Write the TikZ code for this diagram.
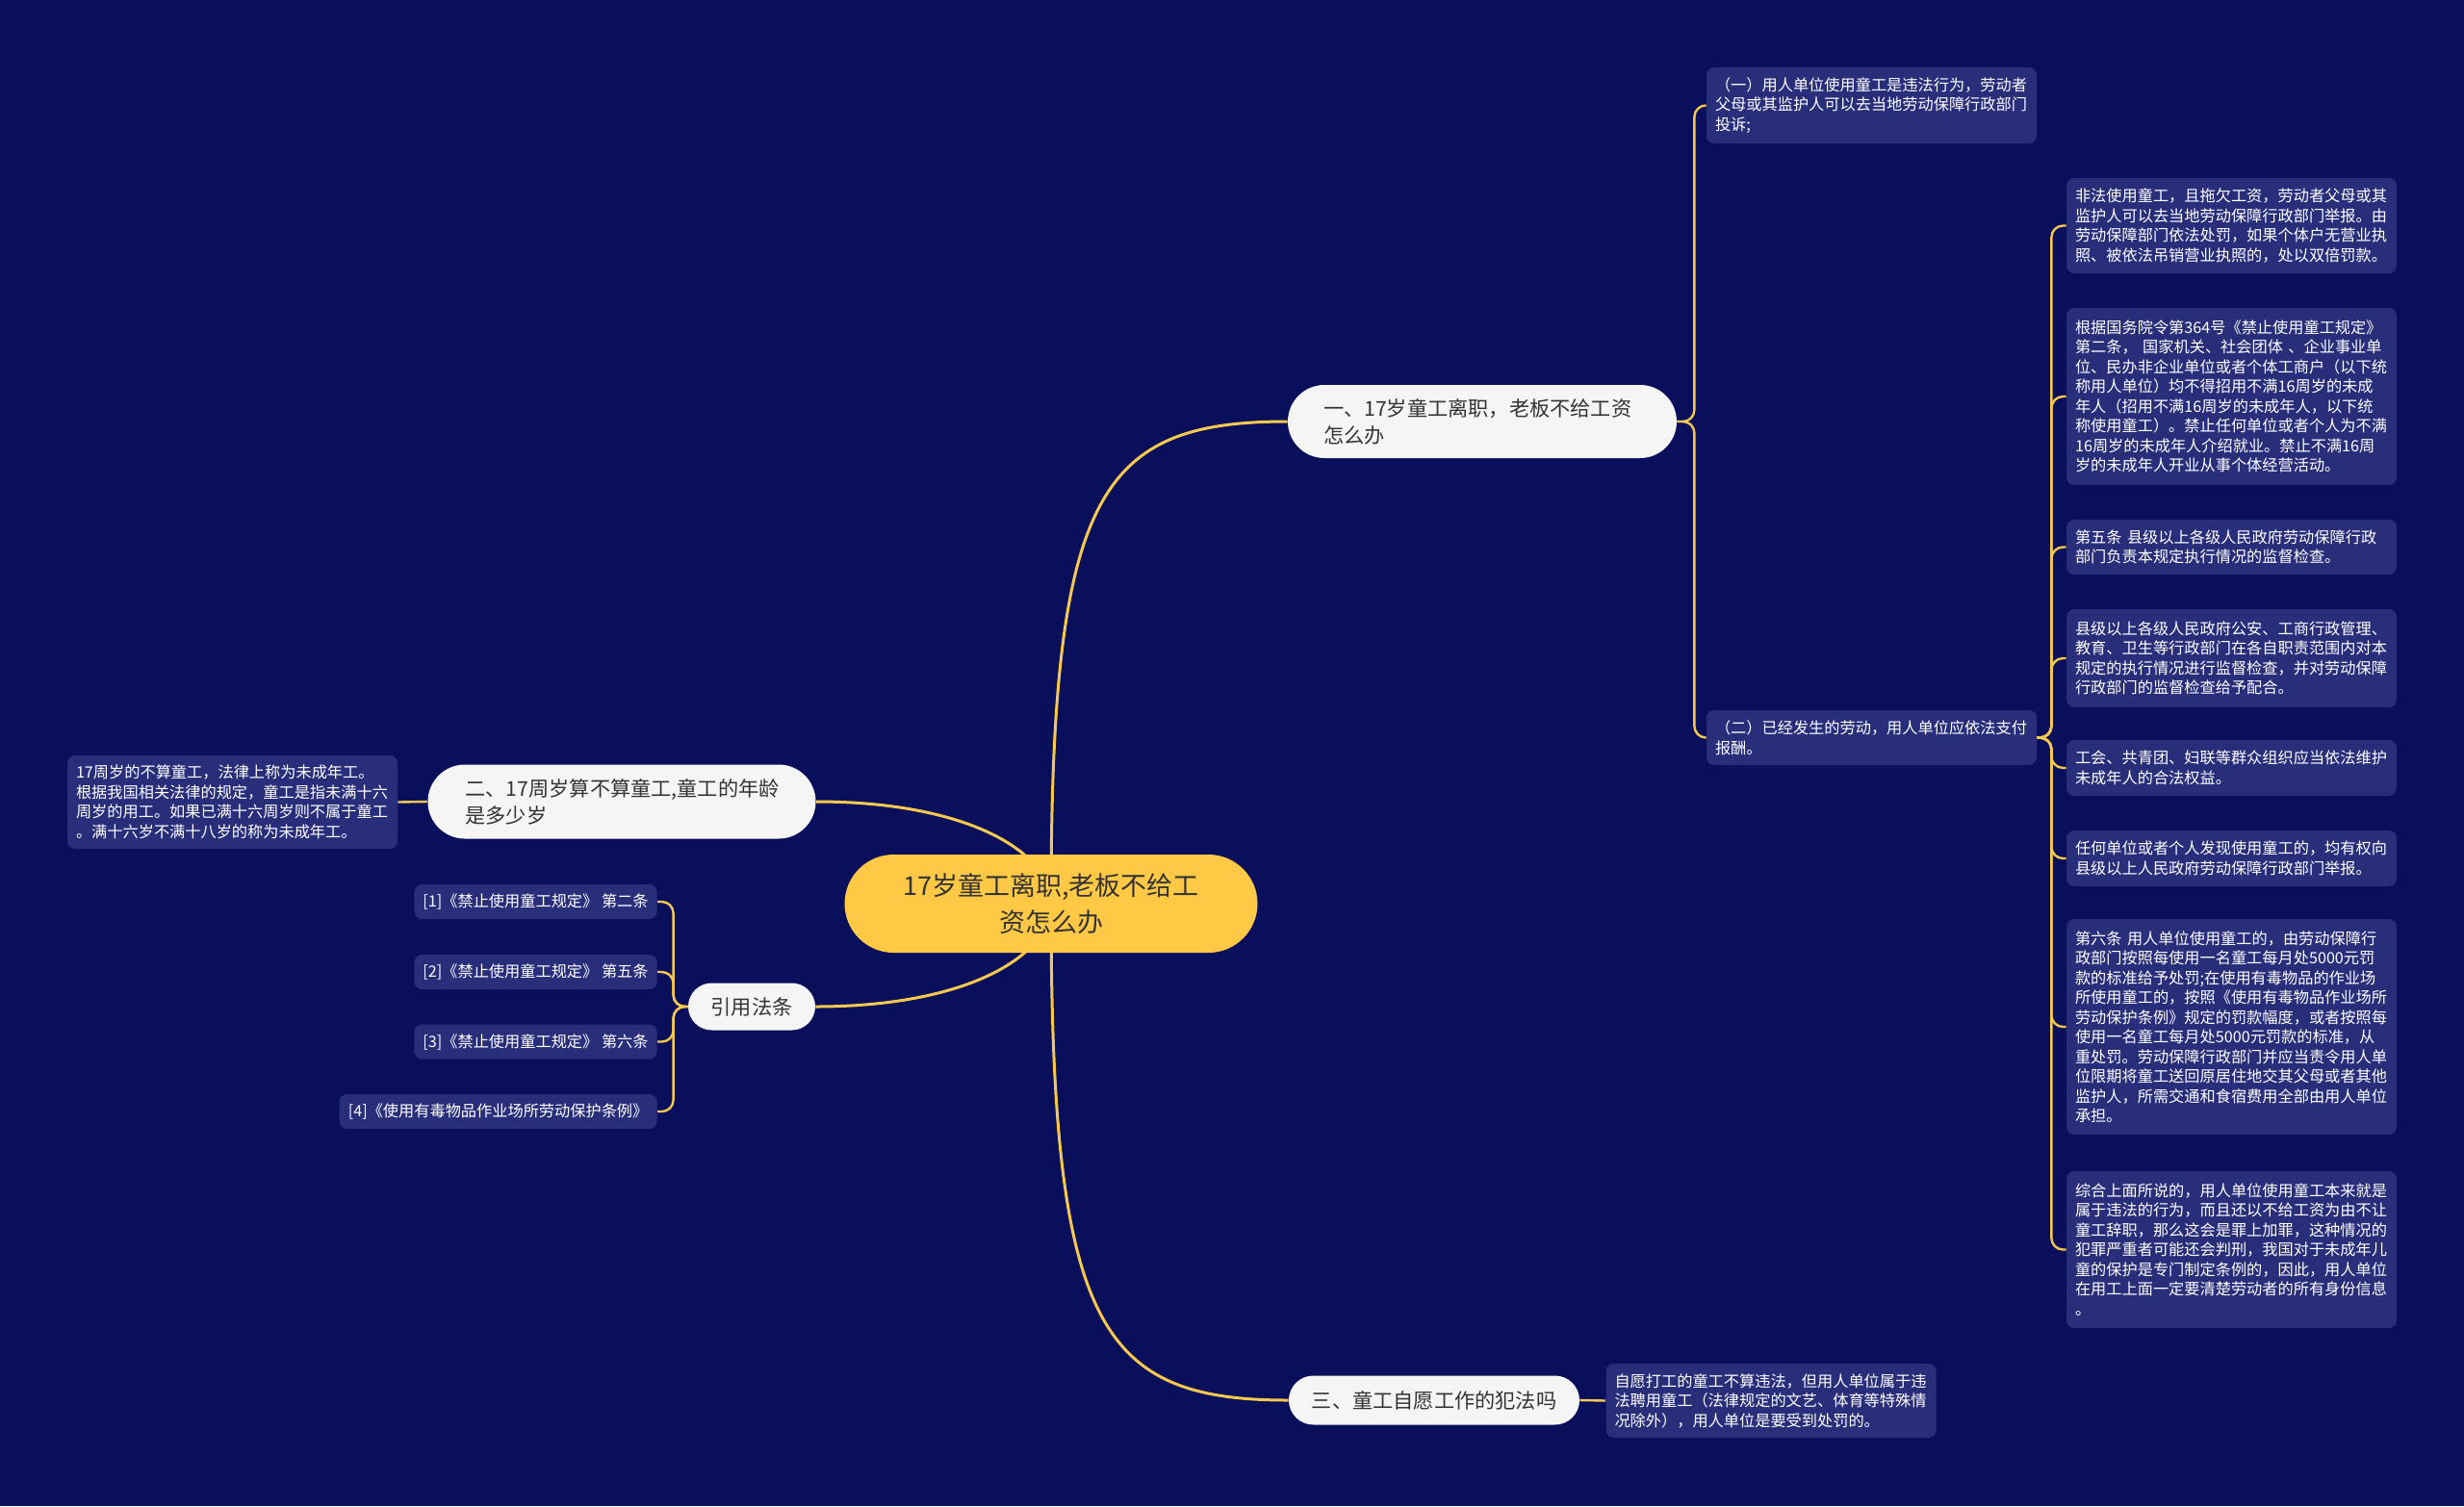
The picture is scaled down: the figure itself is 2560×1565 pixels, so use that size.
\documentclass[tikz,border=0pt]{standalone}
\usepackage{fontspec}
\setmainfont{Noto Sans CJK SC}
\usetikzlibrary{calc}
\definecolor{bgnavy}{RGB}{10,15,92}
\definecolor{leaffill}{RGB}{41,46,122}
\definecolor{linecol}{RGB}{245,200,80}
\definecolor{centerfill}{RGB}{255,200,69}
\definecolor{branchfill}{RGB}{245,245,245}
\definecolor{darktext}{RGB}{51,51,51}
\pgfdeclarelayer{bgzero}
\pgfdeclarelayer{background}
\pgfsetlayers{bgzero,background,main}
\tikzset{
  leaf/.style={fill=leaffill, text=white, rounded corners=4pt,
    font=\fontsize{8.1pt}{10.25pt}\selectfont, inner xsep=4.5pt, inner ysep=0pt},
  leafwide/.style={leaf, text width=162.5pt, align=left},
  cite/.style={leaf, minimum height=18pt, anchor=east},
  branch/.style={fill=branchfill, text=darktext,
    font=\fontsize{10.6pt}{14pt}\selectfont, inner ysep=0pt},
  central/.style={fill=centerfill, text=darktext, minimum width=214.5pt,
    minimum height=51pt, rounded corners=25.5pt, align=center, inner sep=0pt,
    font=\fontsize{13.5pt}{19pt}\selectfont},
  mainline/.style={draw=linecol, line width=1.5pt},
  subline/.style={draw=linecol, line width=1.2pt, rounded corners=6pt},
}
\begin{document}
\begin{tikzpicture}[x=0.5pt,y=-0.5pt]
\useasboundingbox (0,0) rectangle (2560,1565);
\begin{pgfonlayer}{bgzero}
  \fill[bgnavy] (0,0) rectangle (2560,1565);
\end{pgfonlayer}

% central
\node[central] (c) at (1092,939) {17岁童工离职,老板不给工\\资怎么办};

% branches
\node[branch, text width=165pt, align=left, inner xsep=18.5pt, minimum height=38pt, rounded corners=19pt]
  (b1) at (1540,438) {一、17岁童工离职，老板不给工资\\怎么办};
\node[branch, text width=162.5pt, align=left, inner xsep=19.5pt, minimum height=38.5pt, rounded corners=19.25pt]
  (b2) at (646,833) {二、17周岁算不算童工,童工的年龄\\是多少岁};
\node[branch, minimum width=151pt, minimum height=25.5pt, rounded corners=12.75pt]
  (b3) at (1490,1455) {三、童工自愿工作的犯法吗};
\node[branch, minimum width=66pt, minimum height=24.5pt, rounded corners=12.25pt]
  (r) at (781,1046) {引用法条};

% branch 1 leaves
\node[leafwide, minimum height=39.5pt] (la) at (1944.5,109.5)
  {（一）用人单位使用童工是违法行为，劳动者\\父母或其监护人可以去当地劳动保障行政部门\\投诉;};
\node[leafwide, minimum height=28.5pt] (lb) at (1944.5,766.5)
  {（二）已经发生的劳动，用人单位应依法支付\\报酬。};

% leaf B children
\node[leafwide, minimum height=49.5pt] (c1) at (2318.5,234.5)
  {非法使用童工，且拖欠工资，劳动者父母或其\\监护人可以去当地劳动保障行政部门举报。由\\劳动保障部门依法处罚，如果个体户无营业执\\照、被依法吊销营业执照的，处以双倍罚款。};
\node[leafwide, minimum height=92pt] (c2) at (2318.5,412)
  {根据国务院令第364号《禁止使用童工规定》\\第二条， 国家机关、社会团体 、企业事业单\\位、民办非企业单位或者个体工商户（以下统\\称用人单位）均不得招用不满16周岁的未成\\年人（招用不满16周岁的未成年人，以下统\\称使用童工）。禁止任何单位或者个人为不满\\16周岁的未成年人介绍就业。禁止不满16周\\岁的未成年人开业从事个体经营活动。};
\node[leafwide, minimum height=28.5pt] (c3) at (2318.5,568.5)
  {第五条 县级以上各级人民政府劳动保障行政\\部门负责本规定执行情况的监督检查。};
\node[leafwide, minimum height=51pt] (c4) at (2318.5,684)
  {县级以上各级人民政府公安、工商行政管理、\\教育、卫生等行政部门在各自职责范围内对本\\规定的执行情况进行监督检查，并对劳动保障\\行政部门的监督检查给予配合。};
\node[leafwide, minimum height=29pt] (c5) at (2318.5,798)
  {工会、共青团、妇联等群众组织应当依法维护\\未成年人的合法权益。};
\node[leafwide, minimum height=29pt] (c6) at (2318.5,892)
  {任何单位或者个人发现使用童工的，均有权向\\县级以上人民政府劳动保障行政部门举报。};
\node[leafwide, minimum height=112pt] (c7) at (2318.5,1067)
  {第六条 用人单位使用童工的，由劳动保障行\\政部门按照每使用一名童工每月处5000元罚\\款的标准给予处罚;在使用有毒物品的作业场\\所使用童工的，按照《使用有毒物品作业场所\\劳动保护条例》规定的罚款幅度，或者按照每\\使用一名童工每月处5000元罚款的标准，从\\重处罚。劳动保障行政部门并应当责令用人单\\位限期将童工送回原居住地交其父母或者其他\\监护人，所需交通和食宿费用全部由用人单位\\承担。};
\node[leafwide, minimum height=81.5pt] (c8) at (2318.5,1298.5)
  {综合上面所说的，用人单位使用童工本来就是\\属于违法的行为，而且还以不给工资为由不让\\童工辞职，那么这会是罪上加罪，这种情况的\\犯罪严重者可能还会判刑，我国对于未成年儿\\童的保护是专门制定条例的，因此，用人单位\\在用工上面一定要清楚劳动者的所有身份信息\\。};

% branch 3 leaf
\node[leafwide, minimum height=38.5pt] (ld) at (1840,1455.5)
  {自愿打工的童工不算违法，但用人单位属于违\\法聘用童工（法律规定的文艺、体育等特殊情\\况除外），用人单位是要受到处罚的。};

% branch 2 leaf
\node[leafwide, minimum height=48.5pt] (le) at (241.5,833.5)
  {17周岁的不算童工，法律上称为未成年工。\\根据我国相关法律的规定，童工是指未满十六\\周岁的用工。如果已满十六周岁则不属于童工\\。满十六岁不满十八岁的称为未成年工。};

% citations
\node[cite, minimum width=126pt] (r1) at (683,937) {[1]《禁止使用童工规定》 第二条};
\node[cite, minimum width=126pt] (r2) at (683,1010) {[2]《禁止使用童工规定》 第五条};
\node[cite, minimum width=126pt] (r3) at (683,1082.5) {[3]《禁止使用童工规定》 第六条};
\node[cite, minimum width=165pt] (r4) at (683,1155) {[4]《使用有毒物品作业场所劳动保护条例》};

% main curves
\begin{pgfonlayer}{background}
\draw[mainline] (c.center) .. controls ($(c.center)!0.85!(c.center |- b1.west)$) and ($(c.center |- b1.west)!0.2!(b1.west)$) .. (b1.west);
\draw[mainline] (c.center) .. controls ($(c.center)!0.85!(c.center |- b3.west)$) and ($(c.center |- b3.west)!0.2!(b3.west)$) .. (b3.west);
\draw[mainline] (c.center) .. controls ($(c.center)!0.5!(c.center |- b2.east)$) and ($(c.center |- b2.east)!0.35!(b2.east)$) .. (b2.east);
\draw[mainline] (c.center) .. controls ($(c.center)!0.5!(c.center |- r.east)$) and ($(c.center |- r.east)!0.35!(r.east)$) .. (r.east);
\end{pgfonlayer}

% sub connectors
\draw[subline] (b1.east) -- ++(18,0) |- (la.west);
\draw[subline] (b1.east) -- ++(18,0) |- (lb.west);
\foreach \k in {c1,c2,c3,c4,c5,c6,c7,c8}{
  \draw[subline] (lb.east) -- ++(15,0) |- (\k.west);
}
\foreach \k in {r1,r2,r3,r4}{
  \draw[subline] (r.west) -- ++(-15,0) |- (\k.east);
}
\draw[subline] (b2.west) -- (le.east);
\draw[subline] (b3.east) -- (ld.west);
\end{tikzpicture}
\end{document}
